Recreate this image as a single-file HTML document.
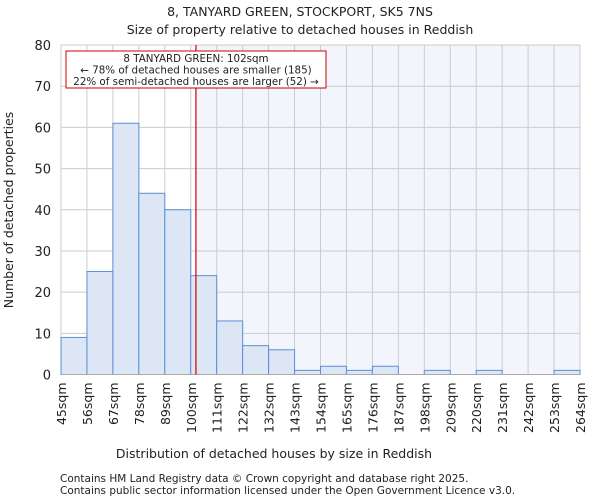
<!DOCTYPE html>
<html><head><meta charset="utf-8"><style>
body{margin:0;background:#fff;font-family:"DejaVu Sans","Liberation Sans",sans-serif;}
svg text{font-family:"DejaVu Sans","Liberation Sans",sans-serif;fill:#222;}
</style></head><body>
<svg id="c" width="600" height="500" xmlns="http://www.w3.org/2000/svg">
<text x="300" y="16" text-anchor="middle" font-size="12.5">8, TANYARD GREEN, STOCKPORT, SK5 7NS</text>
<text x="300" y="34" text-anchor="middle" font-size="12.5">Size of property relative to detached houses in Reddish</text>
<g id="plot"></g>
<text x="274" y="458" text-anchor="middle" font-size="12.5">Distribution of detached houses by size in Reddish</text>
<text transform="translate(13,210) rotate(-90)" text-anchor="middle" font-size="12.5">Number of detached properties</text>
<text x="60" y="482" font-size="10.5" fill="#444">Contains HM Land Registry data © Crown copyright and database right 2025.</text>
<text x="60" y="494" font-size="10.5" fill="#444">Contains public sector information licensed under the Open Government Licence v3.0.</text>
</svg>
<script>
const binLabels=["45sqm","56sqm","67sqm","78sqm","89sqm","100sqm","111sqm","122sqm","132sqm","143sqm","154sqm","165sqm","176sqm","187sqm","198sqm","209sqm","220sqm","231sqm","242sqm","253sqm","264sqm"];
const counts=[9,25,61,44,40,24,13,7,6,1,2,1,2,0,1,0,1,0,0,1];
const yTicks=[0,10,20,30,40,50,60,70,80];
const propertyPos=5.2;
const NS="http://www.w3.org/2000/svg";
const L=61,R=580,T=45,B=374.5,yMax=80;
const bw=(R-L)/counts.length;
const xs=i=>L+i*bw;
const ys=v=>B-(B-T)*v/yMax;
const g=document.getElementById('plot');
function mk(t,a){const e=document.createElementNS(NS,t);for(const k in a)e.setAttribute(k,a[k]);g.appendChild(e);return e;}
const px=xs(propertyPos);
let e=mk('rect',{x:px,y:T,width:R-px,height:B-T,fill:'#f2f5fc'});


yTicks.forEach(t=>{
 let l=mk('line',{x1:L,x2:R,y1:ys(t),y2:ys(t),stroke:'#cccccc'});
 
 
 let tx=mk('text',{x:L-10,y:ys(t)+5,'text-anchor':'end','font-size':13});
 tx.textContent=t;
 
 
});
binLabels.forEach((s,i)=>{
 let l=mk('line',{x1:xs(i),x2:xs(i),y1:T,y2:B,stroke:'#cccccc'});
 
 
 let tx=mk('text',{transform:`translate(${xs(i)+5},${B+8}) rotate(-90)`,'text-anchor':'end','font-size':12.5});
 tx.textContent=s;
 
 
});
counts.forEach((v,i)=>{
 if(v<=0)return;
 let r=mk('rect',{x:xs(i),y:ys(v),width:bw,height:B-ys(v),fill:'#dce6f4',stroke:'#5b8fd8','stroke-width':1});
 
 
});
e=mk('line',{x1:L,x2:R,y1:B,y2:B,stroke:'#aaaaaa'});


e=mk('line',{x1:px,x2:px,y1:T,y2:B,stroke:'#cc0000','stroke-width':1.2});


e=mk('rect',{x:66,y:51,width:260,height:37,fill:'#fff',stroke:'#cc0000'});


["8 TANYARD GREEN: 102sqm","← 78% of detached houses are smaller (185)","22% of semi-detached houses are larger (52) →"].forEach((s,i)=>{
 let tx=mk('text',{x:196,y:62+i*11.5,'text-anchor':'middle','font-size':10.3});
 tx.textContent=s;
 
 
});
</script>
</body></html>
